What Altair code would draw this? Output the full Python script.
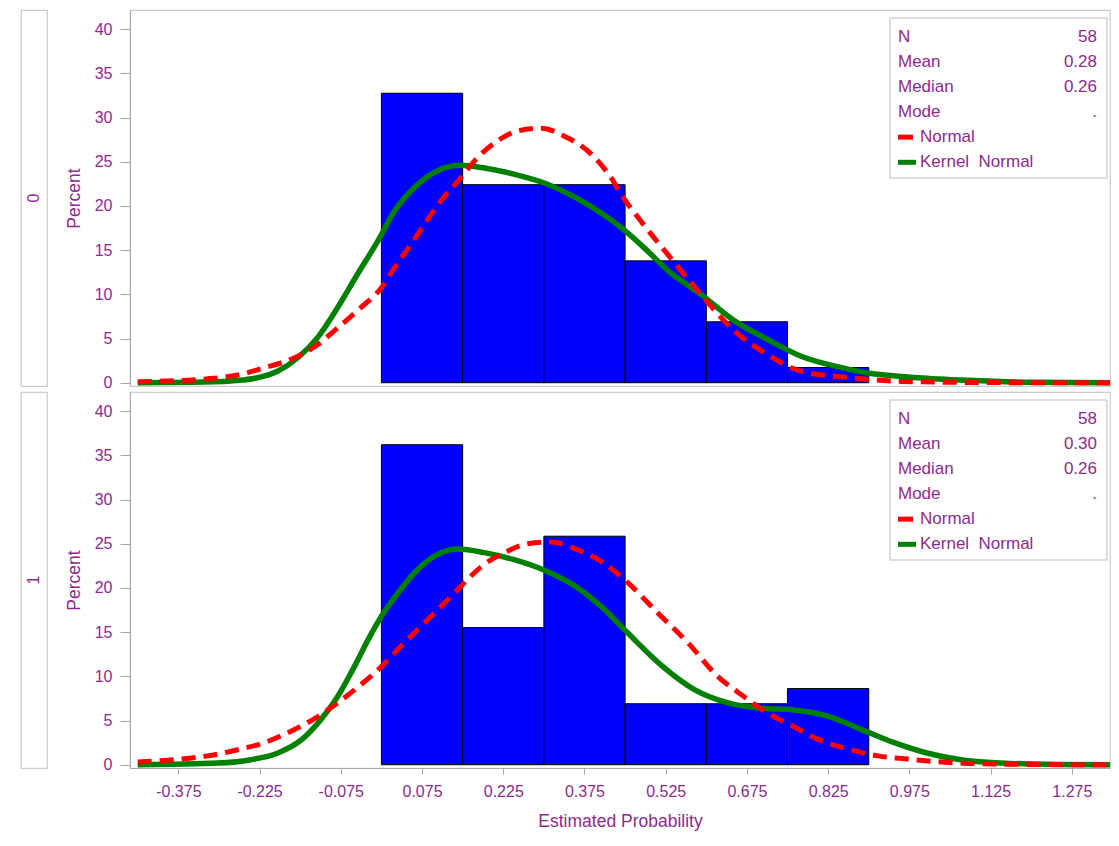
import altair as alt
import pandas as pd

# ---------------- data ----------------
bin_start = [0.0, 0.15, 0.30, 0.45, 0.60, 0.75]
bin_end = [0.15, 0.30, 0.45, 0.60, 0.75, 0.90]
pct_0 = [32.76, 22.41, 22.41, 13.79, 6.90, 1.72]
pct_1 = [36.21, 15.52, 25.86, 6.90, 6.90, 8.62]

normal_x_0 = [-0.45, -0.32, -0.265, -0.216, -0.161, -0.118, -0.081, -0.038, 0.0, 0.024,
              0.055, 0.079, 0.11, 0.141, 0.178, 0.215, 0.252, 0.295, 0.338, 0.387,
              0.424, 0.443, 0.479, 0.529, 0.59, 0.652, 0.713, 0.775, 0.867, 0.96,
              1.1, 1.25, 1.35]
normal_y_0 = [0.1, 0.45, 0.87, 1.7, 2.8, 4.3, 6.2, 8.5, 10.75, 13.0,
              15.7, 17.9, 20.6, 22.8, 25.5, 27.4, 28.5, 28.8, 27.9, 25.9,
              23.2, 21.3, 18.3, 14.5, 10.0, 5.85, 3.2, 1.3, 0.57, 0.15,
              0.03, 0.0, 0.0]

kernel_x_0 = [-0.45, -0.35, -0.278, -0.228, -0.192, -0.155, -0.118, -0.081, -0.044, -0.007,
              0.024, 0.061, 0.104, 0.147, 0.190, 0.245, 0.301, 0.363, 0.406, 0.448,
              0.490, 0.529, 0.590, 0.652, 0.713, 0.775, 0.836, 0.898, 0.990, 1.083,
              1.205, 1.35]
kernel_y_0 = [0.0, 0.05, 0.2, 0.57, 1.3, 2.8, 5.1, 8.5, 12.3, 16.0,
              19.4, 22.1, 24.0, 24.6, 24.3, 23.6, 22.6, 20.8, 19.2, 17.3,
              15.0, 12.7, 10.0, 7.0, 4.9, 3.0, 1.9, 1.1, 0.57, 0.27,
              0.05, 0.0]

normal_x_1 = [-0.45, -0.376, -0.321, -0.265, -0.216, -0.167, -0.124, -0.081, -0.038, 0.0,
              0.036, 0.073, 0.110, 0.147, 0.184, 0.227, 0.270, 0.313, 0.363, 0.406,
              0.455, 0.510, 0.566, 0.621, 0.670, 0.713, 0.762, 0.806, 0.855, 0.917,
              0.972, 1.021, 1.083, 1.2, 1.35]
normal_y_1 = [0.3, 0.6, 1.0, 1.7, 2.5, 3.8, 5.2, 7.0, 9.05, 11.1,
              13.4, 15.65, 17.9, 20.2, 22.4, 24.0, 25.0, 25.2, 24.3, 23.0,
              20.6, 17.2, 13.8, 10.0, 7.7, 5.85, 4.3, 2.9, 1.9, 1.0,
              0.64, 0.37, 0.15, 0.03, 0.0]

kernel_x_1 = [-0.45, -0.302, -0.241, -0.192, -0.148, -0.112, -0.081, -0.050, -0.025, 0.0,
              0.030, 0.067, 0.104, 0.141, 0.190, 0.245, 0.301, 0.363, 0.406, 0.455,
              0.516, 0.578, 0.640, 0.701, 0.762, 0.824, 0.886, 0.947, 1.009, 1.070,
              1.144, 1.25, 1.35]
kernel_y_1 = [0.0, 0.19, 0.57, 1.3, 2.8, 5.1, 7.7, 11.1, 14.1, 16.8,
              19.4, 22.1, 23.8, 24.4, 24.0, 23.2, 22.0, 20.0, 17.9, 14.9,
              11.3, 8.5, 7.0, 6.4, 6.2, 5.5, 4.0, 2.5, 1.3, 0.57,
              0.2, 0.03, 0.0]

stat_labels = ["N", "Mean", "Median", "Mode"]
stat_values_0 = ["58", "0.28", "0.26", "."]
stat_values_1 = ["58", "0.30", "0.26", "."]
legend_labels = ["Normal", "Kernel\u00a0 Normal"]
group_labels = ["0", "1"]

x_ticks = [-0.375, -0.225, -0.075, 0.075, 0.225, 0.375, 0.525, 0.675, 0.825, 0.975, 1.125, 1.275]
y_ticks = [0, 5, 10, 15, 20, 25, 30, 35, 40]

# ---------------- style ----------------
PURPLE = "#8E2A8E"
GREY = "#a8a8a8"
FONT = "Liberation Sans"
W, H = 980, 376
XDOM = [-0.4643, -0.4643 + W / 541.5]
YDOM = [-0.37, 42.18]
BOX_R = W - 3  # inset box right edge (px inside plot)


def make_panel(pct, nx, ny, kx, ky, svals, show_x):
    if show_x:
        xaxis = alt.Axis(values=x_ticks, title="Estimated Probability",
                         labelExpr="replace(format(datum.value, '.3f'), '\u2212', '-')",
                         labelFont=FONT, labelFontSize=16, labelColor=PURPLE,
                         titleFont=FONT, titleFontSize=17.5, titleFontWeight="normal",
                         titleColor=PURPLE, tickColor=GREY, domainColor=GREY,
                         tickSize=6, labelPadding=9, titlePadding=13, grid=False)
    else:
        xaxis = None
    yaxis = alt.Axis(values=y_ticks, title="Percent", labelFont=FONT, labelFontSize=16,
                     labelColor=PURPLE, titleFont=FONT, titleFontSize=17.5,
                     titleFontWeight="normal", titleColor=PURPLE, tickColor=GREY,
                     domainColor=GREY, tickSize=10, labelPadding=8, titlePadding=11,
                     grid=False)
    xs = alt.Scale(domain=XDOM, nice=False, zero=False)
    ys = alt.Scale(domain=YDOM, nice=False, zero=False)

    bars_df = pd.DataFrame({"x": bin_start, "x_end": bin_end, "pct": pct})
    bars = alt.Chart(bars_df).mark_rect(color="#0000FF", stroke="black", strokeWidth=1).encode(
        x=alt.X("x:Q", scale=xs, axis=xaxis),
        x2="x_end:Q",
        y=alt.Y("pct:Q", scale=ys, axis=yaxis),
        y2=alt.datum(0),
    )
    kern = alt.Chart(pd.DataFrame({"x": kx, "pct": ky})).mark_line(
        color="#008000", strokeWidth=5.5, interpolate="monotone", clip=True).encode(
        x=alt.X("x:Q", scale=xs, axis=xaxis),
        y=alt.Y("pct:Q", scale=ys, axis=yaxis),
    )
    norm = alt.Chart(pd.DataFrame({"x": nx, "pct": ny})).mark_line(
        color="#FF0000", strokeWidth=5, strokeDash=[14, 8], interpolate="monotone",
        clip=True).encode(
        x=alt.X("x:Q", scale=xs, axis=xaxis),
        y=alt.Y("pct:Q", scale=ys, axis=yaxis),
    )
    main = alt.layer(bars, kern, norm)

    rows = alt.Scale(type="point", domain=[0, 1, 2, 3, 4, 5], range=[26.5, 152.3], padding=0)
    yrow = alt.Y("row:O", scale=rows, axis=None)
    box = alt.Chart(pd.DataFrame({"a": [0]})).mark_rect(
        fill="white", stroke="#d4d4d4", strokeWidth=1.5).encode(
        x=alt.value(BOX_R - 217), x2=alt.value(BOX_R), y=alt.value(8), y2=alt.value(168))
    sdf = pd.DataFrame({"row": [0, 1, 2, 3], "label": stat_labels, "value": svals})
    slab = alt.Chart(sdf).mark_text(align="left", baseline="middle", font=FONT,
                                    fontSize=17, color=PURPLE).encode(
        x=alt.value(BOX_R - 209), y=yrow, text="label:N")
    sval = alt.Chart(sdf).mark_text(align="right", baseline="middle", font=FONT,
                                    fontSize=17, color=PURPLE).encode(
        x=alt.value(BOX_R - 10), y=yrow, text="value:N")
    ldf = pd.DataFrame({"row": [4, 5], "label": legend_labels})
    ltxt = alt.Chart(ldf).mark_text(align="left", baseline="middle", font=FONT,
                                    fontSize=17, color=PURPLE).encode(
        x=alt.value(BOX_R - 187), y=yrow, text="label:N")
    sw_r = alt.Chart(ldf.iloc[[0]]).mark_rule(color="#FF0000", strokeWidth=5).encode(
        x=alt.value(BOX_R - 209), x2=alt.value(BOX_R - 194), y=yrow)
    sw_g = alt.Chart(ldf.iloc[[1]]).mark_rule(color="#008000", strokeWidth=5).encode(
        x=alt.value(BOX_R - 209), x2=alt.value(BOX_R - 191), y=yrow)
    inset = alt.layer(box, slab, sval, sw_r, sw_g, ltxt)

    return alt.layer(main, inset).resolve_scale(y="independent").properties(width=W, height=H)


def make_strip(label):
    return alt.Chart(pd.DataFrame({"g": [label]})).mark_text(
        angle=270, font=FONT, fontSize=16, color=PURPLE, baseline="middle", align="center").encode(
        text="g:N", x=alt.value(13), y=alt.value(H / 2)).properties(width=26, height=H)


p0 = make_panel(pct_0, normal_x_0, normal_y_0, kernel_x_0, kernel_y_0, stat_values_0, False)
p1 = make_panel(pct_1, normal_x_1, normal_y_1, kernel_x_1, kernel_y_1, stat_values_1, True)

chart = alt.concat(
    make_strip(group_labels[0]), p0, make_strip(group_labels[1]), p1,
    columns=2, bounds="flush", spacing={"row": 6, "column": 83},
).properties(
    padding={"left": 12, "top": 1, "right": 0, "bottom": 0},
    background="white",
).configure_view(stroke="#cccccc", strokeWidth=1.2)

chart.save("out.html", embed_options={"renderer": "svg", "actions": False})
